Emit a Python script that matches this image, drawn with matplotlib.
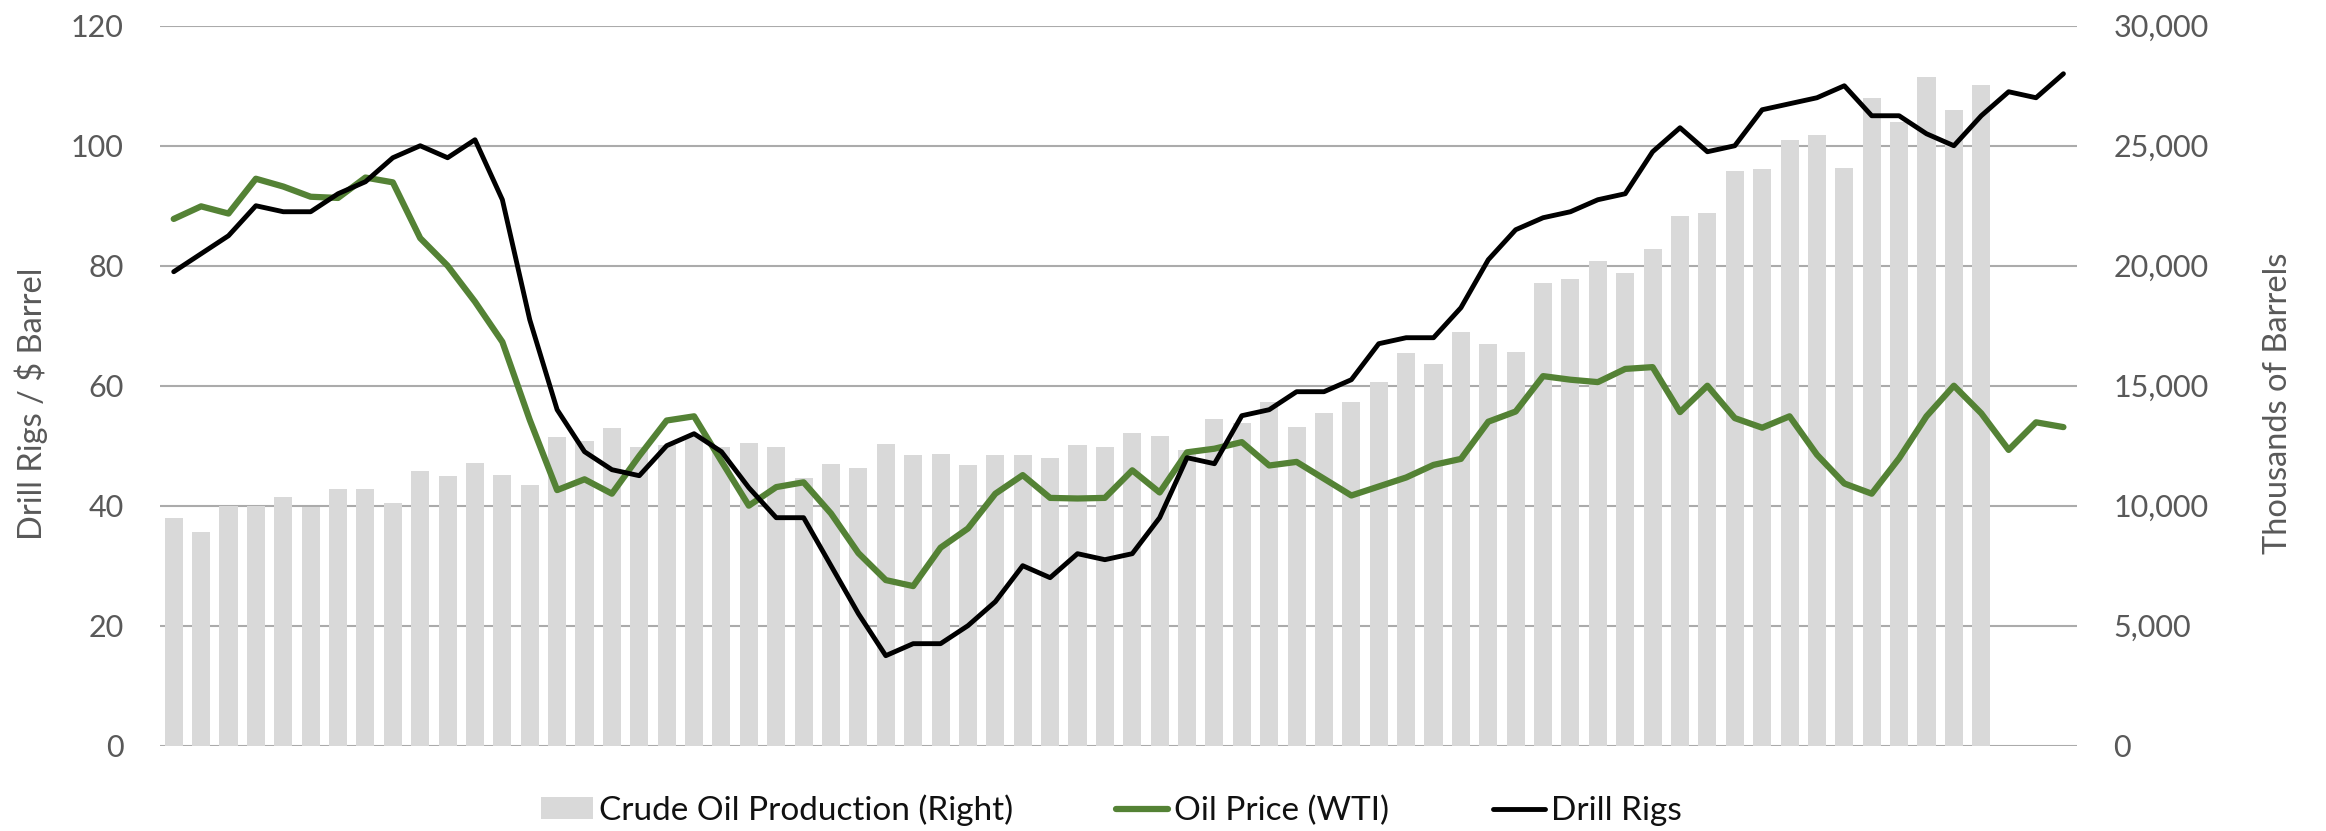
# Crude oil production, WTI price and drill rigs (monthly)
import matplotlib.pyplot as plt
import numpy as np

plt.rcParams['font.family'] = ['Lato', 'DejaVu Sans']

# drill rig count (left axis)
rigs = [79, 82, 85, 90, 89, 89, 92, 94, 98, 100, 98, 101, 91, 71, 56, 49, 46, 45,
        50, 52, 49, 43, 38, 38, 30, 22, 15, 17, 17, 20, 24, 30, 28, 32, 31, 32,
        38, 48, 47, 55, 56, 59, 59, 61, 67, 68, 68, 73, 81, 86, 88, 89, 91, 92,
        99, 103, 99, 100, 106, 107, 108, 110, 105, 105, 102, 100, 105, 109, 108, 112]

# WTI price, $ per barrel (left axis)
oil_price = [87.8, 89.9, 88.7, 94.5, 93.2, 91.5, 91.3, 94.7, 93.9, 84.6,
             80.0, 74.0, 67.3, 54.3, 42.6, 44.4, 42.0, 48.3, 54.2, 54.9,
             47.4, 40.0, 43.1, 43.9, 38.7, 32.1, 27.6, 26.6, 33.0, 36.2,
             42.0, 45.1, 41.3, 41.2, 41.3, 45.9, 42.2, 48.9, 49.5, 50.6,
             46.7, 47.3, 44.5, 41.7, 43.2, 44.7, 46.8, 47.8, 54.0, 55.7,
             61.6, 61.0, 60.6, 62.8, 63.1, 55.6, 60.0, 54.6, 53.0, 54.9,
             48.5, 43.7, 42.0, 47.9, 54.9, 60.0, 55.4, 49.3, 53.9, 53.1]

# crude oil production, thousands of barrels (right axis)
production = [9490, 8900, 10000, 9980, 10350, 9950, 10700, 10700, 10100, 11430,
              11230, 11780, 11280, 10850, 12850, 12680, 13230, 12430, 12550, 12950,
              12450, 12600, 12430, 11150, 11730, 11550, 12580, 12100, 12150, 11680,
              12130, 12130, 11980, 12530, 12430, 13030, 12900, 12330, 13630, 13430,
              14330, 13280, 13850, 14330, 15150, 16350, 15900, 17250, 16750, 16400,
              19300, 19450, 20200, 19680, 20700, 22080, 22180, 23930, 24050, 25230,
              25430, 24080, 26980, 25980, 27850, 26500, 27530]

x = np.arange(len(rigs))
xb = np.arange(len(production))

fig, ax = plt.subplots(figsize=(23.26, 8.31), dpi=100)
fig.subplots_adjust(left=0.0688, right=0.893, top=0.969, bottom=0.1027)
ax2 = ax.twinx()

# bars on the right axis, drawn underneath the lines
bars = ax2.bar(xb, production, width=0.66, color='#D9D9D9', zorder=2,
               label='Crude Oil Production (Right)')
ax2.set_ylim(0, 30000)
ax2.set_yticks(np.arange(0, 30001, 5000))
ax2.set_yticklabels([f'{v:,}' for v in range(0, 30001, 5000)])
ax2.grid(axis='y', color='#ABABAB', linewidth=1.5, zorder=0)
ax2.set_axisbelow(True)

l1, = ax.plot(x, oil_price, color='#548235', linewidth=4.5, label='Oil Price (WTI)',
              solid_joinstyle='round', solid_capstyle='round')
l2, = ax.plot(x, rigs, color='black', linewidth=3.5, label='Drill Rigs',
              solid_joinstyle='round', solid_capstyle='round')
ax.set_ylim(0, 120)
ax.set_yticks(np.arange(0, 121, 20))
ax.set_xlim(-0.5, len(rigs) - 0.5)
ax.set_xticks([])

ax.set_zorder(ax2.get_zorder() + 1)
ax.patch.set_visible(False)

for a in (ax, ax2):
    for s in a.spines.values():
        s.set_visible(False)
    a.tick_params(axis='y', length=0, pad=26, labelsize=22, labelcolor='#595959')

ax.set_ylabel('Drill Rigs / $ Barrel', fontsize=23.5, color='#595959')
ax2.set_ylabel('Thousands of Barrels', fontsize=23.5, color='#595959', rotation=90)
ax.yaxis.label.set_va('center')
ax2.yaxis.label.set_va('center')
ax.yaxis.set_label_coords(-0.0673, 0.475)
ax2.yaxis.set_label_coords(1.1048, 0.475)

fig.legend(handles=[bars, l1, l2], loc='center', bbox_to_anchor=(0.4777, 0.025),
           ncol=3, frameon=False, fontsize=24, handlelength=1.56, handleheight=0.65,
           handletextpad=0.18, columnspacing=3.1, labelcolor='#111111')

fig.savefig('out.png', dpi=100)
